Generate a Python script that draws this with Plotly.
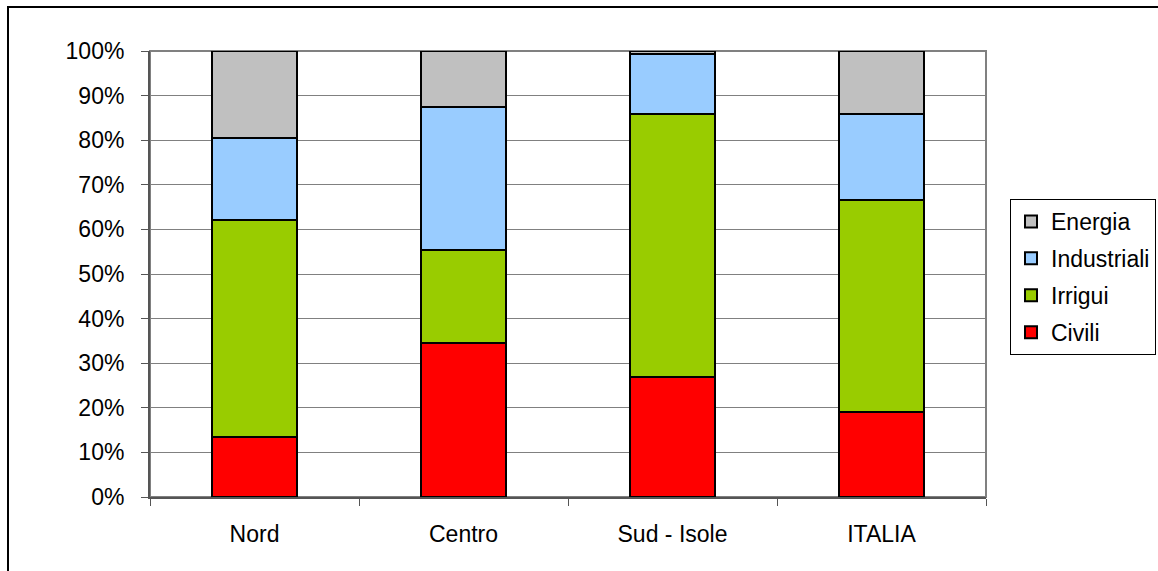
import plotly.graph_objects as go

categories = ["Nord", "Centro", "Sud - Isole", "ITALIA"]
civili = [13.4, 34.5, 26.9, 19.1]
irrigui = [48.7, 20.9, 59.0, 47.6]
industriali = [18.5, 32.0, 13.5, 19.1]
energia = [19.4, 12.6, 0.6, 14.2]

series = [
    ("Civili", civili, "#FF0000"),
    ("Irrigui", irrigui, "#99CC00"),
    ("Industriali", industriali, "#99CCFF"),
    ("Energia", energia, "#C0C0C0"),
]

W, H = 1158, 571
L, R, T, B = 150, 172, 51, 74
pw, ph = W - L - R, H - T - B

fig = go.Figure()
for i, (name, vals, color) in enumerate(series):
    fig.add_trace(go.Bar(
        x=categories, y=vals, name=name,
        marker=dict(color=color, line=dict(color="black", width=2)),
        legendgroup=name,
        legendrank=len(series) - i,  # top stack segment listed first
    ))

font = "Liberation Sans, Arial, sans-serif"

def px_x(x):
    return (x - L) / pw

def px_y(y):
    return 1 - (y - T) / ph

fig.update_layout(
    width=W, height=H,
    margin=dict(l=L, r=R, t=T, b=B, autoexpand=False),
    barmode="stack",
    bargap=0.59,
    paper_bgcolor="white",
    plot_bgcolor="white",
    font=dict(family=font, size=23, color="black"),
    legend=dict(
        traceorder="grouped",
        x=px_x(1010), y=px_y(199), xanchor="left", yanchor="top",
        bordercolor="black", borderwidth=1,
        font=dict(size=23),
        tracegroupgap=4,
        itemwidth=30,
    ),
    xaxis=dict(
        showline=True, linecolor="#555555", linewidth=2,
        ticks="outside", ticklen=7, tickcolor="#555555", tickwidth=1,
        tickson="boundaries", showgrid=False,
        ticklabelstandoff=15,
    ),
    yaxis=dict(
        range=[0, 100], dtick=10, ticksuffix="%",
        showline=True, linecolor="#555555", linewidth=2,
        ticks="outside", ticklen=7, tickcolor="#555555", tickwidth=1,
        showgrid=True, gridcolor="#808080", gridwidth=1,
        zeroline=False, ticklabelstandoff=12,
    ),
    shapes=[
        # plot-area border
        dict(type="rect", xref="paper", yref="paper", x0=0, x1=1, y0=0, y1=1,
             line=dict(color="#808080", width=2), layer="below"),
        # chart frame
        dict(type="rect", xref="paper", yref="paper",
             x0=px_x(8), x1=px_x(1200), y0=px_y(620), y1=px_y(7),
             line=dict(color="black", width=2), layer="above"),
    ],
)

fig.write_html("out.html")
